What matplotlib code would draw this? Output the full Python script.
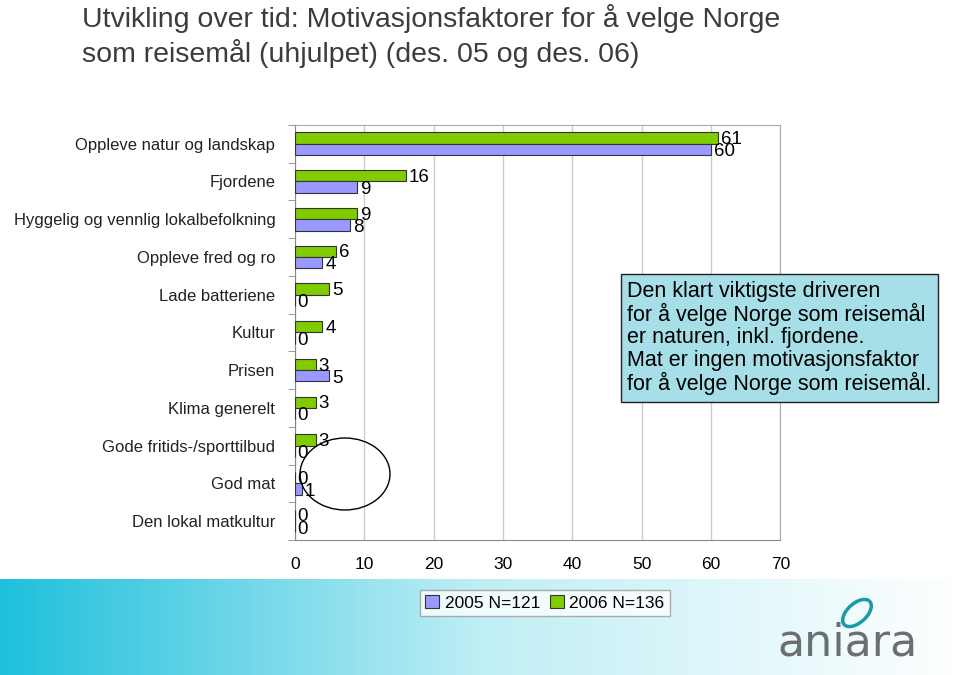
import matplotlib.pyplot as plt
import numpy as np
from matplotlib.patches import Ellipse
from matplotlib.colors import LinearSegmentedColormap

plt.rcParams['font.family'] = ['Liberation Sans', 'DejaVu Sans']

categories = ['Oppleve natur og landskap', 'Fjordene', 'Hyggelig og vennlig lokalbefolkning',
              'Oppleve fred og ro', 'Lade batteriene', 'Kultur', 'Prisen', 'Klima generelt',
              'Gode fritids-/sporttilbud', 'God mat', 'Den lokal matkultur']
v2005 = [60, 9, 8, 4, 0, 0, 5, 0, 0, 1, 0]
v2006 = [61, 16, 9, 6, 5, 4, 3, 3, 3, 0, 0]
labels = ['2005 N=121', '2006 N=136']

blue = '#9999ff'
green = '#80cc00'

fig = plt.figure(figsize=(9.6, 6.75), dpi=100)

# bottom gradient band
bg = fig.add_axes([0, 0, 1, 0.142])
grad = np.linspace(0, 1, 256)[None, :]
cmap = LinearSegmentedColormap.from_list('band', ['#1fc0dc', '#bfeef5', '#ffffff'])
bg.imshow(grad, aspect='auto', cmap=cmap, extent=[0, 1, 0, 1])
bg.set_axis_off()

ax = fig.add_axes([0.307, 0.2, 0.506, 0.615])
y = np.arange(len(categories))
h = 0.3
ax.barh(y - h / 2, v2006, height=h, color=green, edgecolor='#333333', linewidth=0.8, label=labels[1], zorder=3)
ax.barh(y + h / 2, v2005, height=h, color=blue, edgecolor='#333333', linewidth=0.8, label=labels[0], zorder=3)

for i in range(len(categories)):
    ax.text(v2006[i] + 0.4, y[i] - h / 2 + 0.04, str(v2006[i]), fontsize=13.5, va='center', ha='left')
    ax.text(v2005[i] + 0.4, y[i] + h / 2 + 0.06, str(v2005[i]), fontsize=13.5, va='center', ha='left')

ax.set_xlim(0, 70)
ax.set_ylim(len(categories) - 0.5, -0.5)
ax.set_xticks(np.arange(0, 71, 10))
ax.tick_params(axis='x', length=0, labelsize=12.5, pad=12)
ax.set_yticks(y)
ax.set_yticklabels(categories, fontsize=12, color='#222222')
ax.tick_params(axis='y', length=0, pad=14)
ax.set_yticks(np.arange(-0.5, len(categories), 1), minor=True)
ax.tick_params(axis='y', which='minor', length=5, color='#888888')
ax.grid(axis='x', color='#cccccc', linewidth=1, zorder=0)
for s in ['top', 'right']:
    ax.spines[s].set_color('#aaaaaa')
ax.spines['left'].set_color('#888888')
ax.spines['bottom'].set_color('#888888')

# ellipse around the food items
ell = Ellipse((345 / 960, 1 - 474 / 675), 90 / 960, 72 / 675, transform=fig.transFigure,
              fill=False, edgecolor='black', linewidth=1, zorder=5)
fig.patches.append(ell)

handles, lbls = ax.get_legend_handles_labels()
fig.legend(handles[::-1], lbls[::-1], loc='center', bbox_to_anchor=(545 / 960, 1 - 603 / 675),
           ncol=2, fontsize=12.5, frameon=True, fancybox=False, edgecolor='#999999',
           handlelength=0.8, handleheight=0.8, handletextpad=0.3, columnspacing=0.6,
           borderpad=0.3, borderaxespad=0)

fig.text(627 / 960, 1 - 338 / 675,
         'Den klart viktigste driveren\nfor å velge Norge som reisemål\ner naturen, inkl. fjordene.\n'
         'Mat er ingen motivasjonsfaktor\nfor å velge Norge som reisemål.',
         fontsize=15.5, va='center', ha='left', linespacing=1.08,
         bbox=dict(boxstyle='square,pad=0.3', facecolor='#a6dfe7', edgecolor='#222222'))

fig.text(82 / 960, 1 - 36 / 675,
         'Utvikling over tid: Motivasjonsfaktorer for å velge Norge\nsom reisemål (uhjulpet) (des. 05 og des. 06)',
         fontsize=20.5, color='#3c3c3c', va='center', ha='left', linespacing=1.25)

# logo
fig.text(848 / 960, 1 - 643 / 675, 'aniara', fontsize=32, color='#6d6e71', ha='center', va='center',
         family='DejaVu Sans')
fig.patches.append(Ellipse((857 / 960, 1 - 613 / 675), 22 / 960, 30 / 675, angle=-30,
                           transform=fig.transFigure, facecolor='none', edgecolor='#1a9aa8', linewidth=2.5))

fig.savefig('out.png', dpi=100)
